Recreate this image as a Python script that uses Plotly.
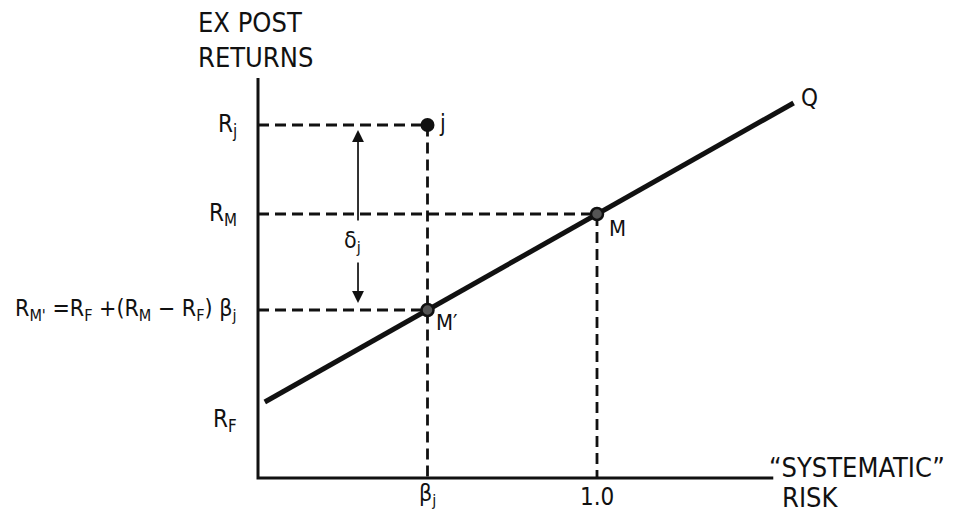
import plotly.graph_objects as go

# values (arbitrary units: beta on x, return on y)
beta_j = 0.5
beta_m = 1.0
r_f = 0.72
r_m = 2.64
r_mprime = 1.68
r_j = 3.53

# market line from R_F out to Q
line_x = [0.02, 0.5, 1.0, 1.58]
line_y = [0.76, 1.68, 2.64, 3.75]

point_names = ["j", "M", "M'"]
point_x = [beta_j, beta_m, beta_j]
point_y = [r_j, r_m, r_mprime]

FONT = "Liberation Sans Narrow, DejaVu Sans Condensed, Arial Narrow, sans-serif"
INK = "#111111"

fig = go.Figure()

# axes drawn by hand
fig.add_trace(go.Scatter(x=[0, 0, 1.52], y=[4.0, 0, 0], mode="lines",
                         line=dict(color=INK, width=3), hoverinfo="skip"))

# dashed guides
dash = dict(color=INK, width=2.8, dash="11px,6px")
fig.add_trace(go.Scatter(x=[0, beta_j, beta_j], y=[r_j, r_j, 0], mode="lines",
                         line=dash, hoverinfo="skip"))
fig.add_trace(go.Scatter(x=[0, beta_m, beta_m], y=[r_m, r_m, 0], mode="lines",
                         line=dash, hoverinfo="skip"))
fig.add_trace(go.Scatter(x=[0, beta_j], y=[r_mprime, r_mprime], mode="lines",
                         line=dash, hoverinfo="skip"))

# the line Q
fig.add_trace(go.Scatter(x=line_x, y=line_y, mode="lines",
                         line=dict(color=INK, width=5), hoverinfo="skip"))

# points
fig.add_trace(go.Scatter(x=point_x[:1], y=point_y[:1], mode="markers",
                         marker=dict(size=14, color=INK), hoverinfo="skip"))
fig.add_trace(go.Scatter(x=point_x[1:], y=point_y[1:], mode="markers",
                         marker=dict(size=12, color="#555555",
                                     line=dict(color=INK, width=2.5)),
                         hoverinfo="skip"))

ann = []


def txt(x, y, s, size=20, xanchor="center", yanchor="middle", align="left"):
    ann.append(dict(x=x, y=y, text=s, showarrow=False, xanchor=xanchor,
                    yanchor=yanchor, align=align,
                    font=dict(family=FONT, size=size, color=INK)))


txt(-0.183, 4.38, "EX POST<br>RETURNS", size=27, xanchor="left")
txt(-0.055, r_j, "R<sub>j</sub>", size=24, xanchor="right")
txt(-0.055, r_m, "R<sub>M</sub>", size=24, xanchor="right")
txt(-0.055, 0.58, "R<sub>F</sub>", size=24, xanchor="right")
txt(-0.06, r_mprime,
    "R<sub>M'</sub> =R<sub>F</sub> +(R<sub>M</sub> − R<sub>F</sub>) β<sub>j</sub>",
    size=23, xanchor="right")
txt(beta_j, -0.17, "β<sub>j</sub>", size=23)
txt(beta_m, -0.19, "1.0", size=24)
txt(1.5, 0.11, "“SYSTEMATIC”", size=27, xanchor="left")
txt(1.54, -0.19, "RISK", size=27, xanchor="left")
txt(0.527, r_j + 0.02, "j", size=23, xanchor="left")
txt(1.03, r_m - 0.14, "M", size=22, xanchor="left")
txt(0.52, r_mprime - 0.12, "M′", size=22, xanchor="left")
txt(1.595, 3.80, "Q", size=24, xanchor="left")
txt(0.278, 2.36, "δ<sub>j</sub>", size=23)

# double arrow for delta_j, broken around the label
for head, tail in [(r_j - 0.05, 2.56), (r_mprime + 0.07, 2.17)]:
    ann.append(dict(x=0.295, y=head, ax=0.295, ay=tail, xref="x", yref="y",
                    axref="x", ayref="y", showarrow=True, arrowhead=2,
                    arrowsize=1.4, arrowwidth=1.7, arrowcolor=INK, text=""))

# page body adds 8px, so the origin sits at (250, 470) in figure pixels;
# 339 px per beta unit, 100 px per return unit
fig.update_layout(
    width=956, height=512,
    margin=dict(l=0, r=0, t=0, b=0),
    paper_bgcolor="white", plot_bgcolor="white",
    showlegend=False,
    xaxis=dict(range=[-250 / 339, (956 - 250) / 339], visible=False),
    yaxis=dict(range=[-(512 - 470) / 100, 470 / 100], visible=False),
    annotations=ann,
)

fig.write_html("out.html")
